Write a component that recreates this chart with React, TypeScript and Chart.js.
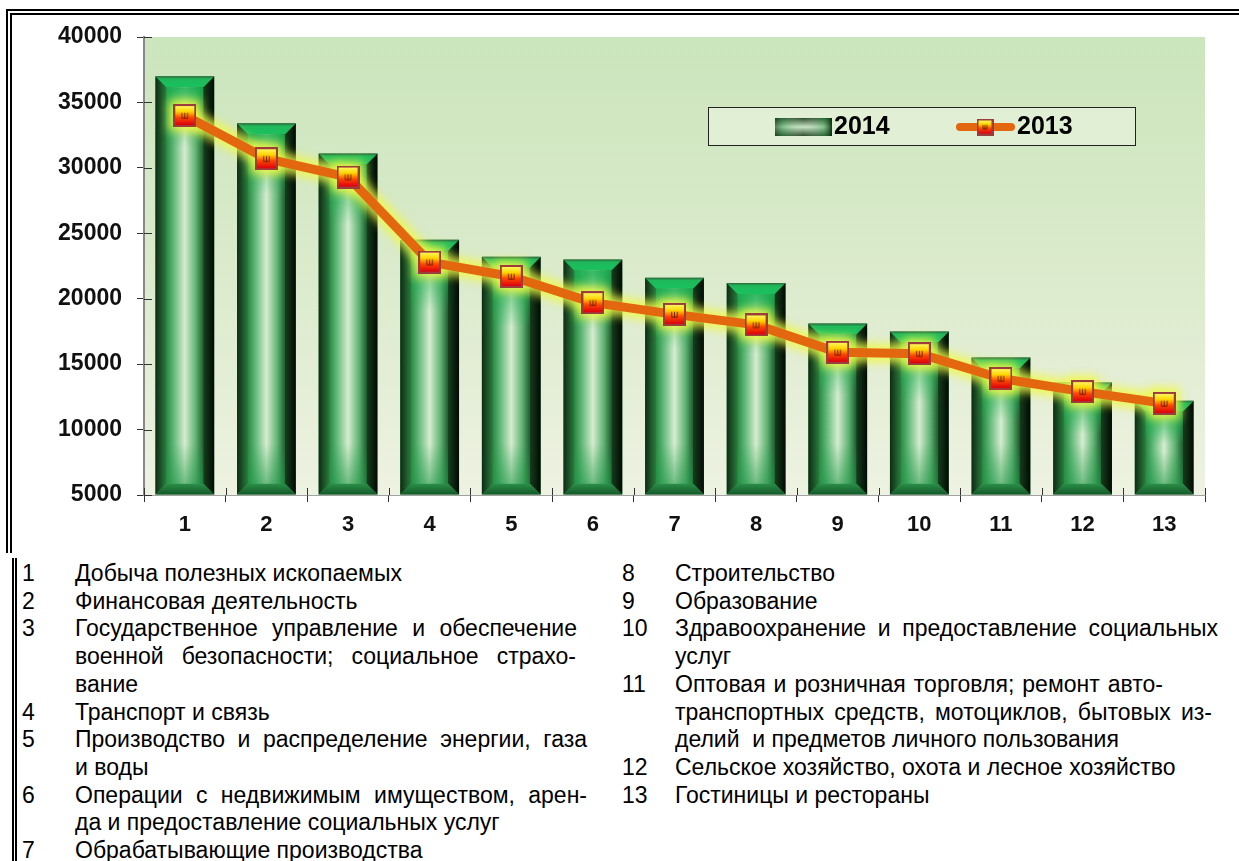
import React, { useEffect, useRef } from "react";
import { Chart, registerables } from "chart.js";

Chart.register(...registerables);

const categories = ["1", "2", "3", "4", "5", "6", "7", "8", "9", "10", "11", "12", "13"];
const values2014 = [37000, 33400, 31100, 24500, 23200, 23000, 21600, 21200, 18100, 17500, 15500, 13600, 12200];
const values2013 = [34000, 30700, 29300, 22800, 21700, 19700, 18800, 18000, 15900, 15800, 13900, 12900, 12000];
const yMin = 5000;
const yMax = 40000;
const yStep = 5000;
const seriesNames = ["2014", "2013"];

const descLeft: [string, string[]][] = [
  ["1", ["Добыча полезных ископаемых"]],
  ["2", ["Финансовая деятельность"]],
  ["3", ["Государственное управление и обеспечение", "военной безопасности; социальное страхо-", "вание"]],
  ["4", ["Транспорт и связь"]],
  ["5", ["Производство и распределение энергии, газа", "и воды"]],
  ["6", ["Операции с недвижимым имуществом, арен-", "да и предоставление социальных услуг"]],
  ["7", ["Обрабатывающие производства"]],
];
const descRight: [string, string[]][] = [
  ["8", ["Строительство"]],
  ["9", ["Образование"]],
  ["10", ["Здравоохранение и предоставление социальных", "услуг"]],
  ["11", ["Оптовая и розничная торговля; ремонт авто-", "транспортных средств, мотоциклов, бытовых из-", "делий  и предметов личного пользования"]],
  ["12", ["Сельское хозяйство, охота и лесное хозяйство"]],
  ["13", ["Гостиницы и рестораны"]],
];

// layout only: right edge (px) to which a justified line is stretched
const justifyEnds: Record<string, number> = {
  "3-0": 577,
  "3-1": 576,
  "5-0": 587,
  "6-0": 587,
  "10-0": 1218,
  "11-0": 1163,
  "11-1": 1212,
};

const FONT = "'Liberation Sans', Arial, Helvetica, sans-serif";
const CANVAS_W = 1239;
const CANVAS_H = 555;

function makeMarker(size: number): HTMLCanvasElement {
  const c = document.createElement("canvas");
  c.width = size;
  c.height = size;
  const g = c.getContext("2d")!;
  g.fillStyle = "#9b3d3d";
  g.fillRect(0, 0, size, size);
  const b = Math.max(2, Math.round(size * 0.1));
  const gr = g.createLinearGradient(0, b, 0, size - b);
  gr.addColorStop(0, "#fff65a");
  gr.addColorStop(0.3, "#ffd400");
  gr.addColorStop(0.6, "#ff4800");
  gr.addColorStop(1, "#dc0010");
  g.fillStyle = gr;
  g.fillRect(b, b, size - 2 * b, size - 2 * b);
  g.strokeStyle = "rgba(90,30,0,0.85)";
  g.lineWidth = 1;
  const cx = size / 2, cy = size / 2;
  const s = size * 0.12;
  g.beginPath();
  g.moveTo(cx - s, cy - s); g.lineTo(cx - s, cy + s); g.lineTo(cx + s, cy + s); g.lineTo(cx + s, cy - s);
  g.moveTo(cx, cy - s); g.lineTo(cx, cy + s);
  g.stroke();
  return c;
}

function drawBar3D(ctx: CanvasRenderingContext2D, L: number, R: number, T: number, B: number) {
  const b = 11;
  let gr = ctx.createLinearGradient(L, 0, L + b, 0);
  gr.addColorStop(0, "#0e2b13");
  gr.addColorStop(1, "#2b7d3d");
  ctx.fillStyle = gr;
  ctx.beginPath();
  ctx.moveTo(L, T); ctx.lineTo(L + b, T + b); ctx.lineTo(L + b, B - b); ctx.lineTo(L, B); ctx.closePath();
  ctx.fill();
  gr = ctx.createLinearGradient(R - b, 0, R, 0);
  gr.addColorStop(0, "#163f1d");
  gr.addColorStop(1, "#020a03");
  ctx.fillStyle = gr;
  ctx.beginPath();
  ctx.moveTo(R, T); ctx.lineTo(R - b, T + b); ctx.lineTo(R - b, B - b); ctx.lineTo(R, B); ctx.closePath();
  ctx.fill();
  gr = ctx.createLinearGradient(0, T, 0, T + b);
  gr.addColorStop(0, "#2f6a3c");
  gr.addColorStop(0.25, "#1fb85a");
  gr.addColorStop(1, "#18c25e");
  ctx.fillStyle = gr;
  ctx.beginPath();
  ctx.moveTo(L, T); ctx.lineTo(R, T); ctx.lineTo(R - b, T + b); ctx.lineTo(L + b, T + b); ctx.closePath();
  ctx.fill();
  gr = ctx.createLinearGradient(0, B - b, 0, B);
  gr.addColorStop(0, "#2a9048");
  gr.addColorStop(1, "#15582a");
  ctx.fillStyle = gr;
  ctx.beginPath();
  ctx.moveTo(L, B); ctx.lineTo(R, B); ctx.lineTo(R - b, B - b); ctx.lineTo(L + b, B - b); ctx.closePath();
  ctx.fill();
  const iL = L + b, iR = R - b, iT = T + b, iB = B - b;
  if (iB > iT) {
    gr = ctx.createLinearGradient(iL, 0, iR, 0);
    gr.addColorStop(0, "#2a8a44");
    gr.addColorStop(0.2, "#62b97a");
    gr.addColorStop(0.5, "#d6edcf");
    gr.addColorStop(0.8, "#5fb273");
    gr.addColorStop(1, "#1e5e2e");
    ctx.fillStyle = gr;
    ctx.fillRect(iL, iT, iR - iL, iB - iT);
    const h = iB - iT;
    const vg = ctx.createLinearGradient(0, iT, 0, iB);
    vg.addColorStop(0, "rgba(25,175,80,0.85)");
    vg.addColorStop(Math.min(0.45, 60 / h), "rgba(25,175,80,0.0)");
    vg.addColorStop(Math.max(0.55, 1 - 40 / h), "rgba(30,150,70,0.0)");
    vg.addColorStop(1, "rgba(30,150,70,0.55)");
    ctx.fillStyle = vg;
    ctx.fillRect(iL, iT, iR - iL, h);
  }
}

export default function App() {
  const ref = useRef<HTMLCanvasElement | null>(null);

  useEffect(() => {
    const canvas = ref.current;
    if (!canvas) return;
    const marker = makeMarker(23);
    const legendMarker = makeMarker(17);

    const bgPlugin = {
      id: "bgPlugin",
      beforeDatasetsDraw(chart: any) {
        const { ctx, chartArea } = chart;
        const g = ctx.createLinearGradient(0, chartArea.top, 0, chartArea.bottom);
        g.addColorStop(0, "#cbe5bc");
        g.addColorStop(0.55, "#dcebcd");
        g.addColorStop(1, "#eef2e2");
        ctx.save();
        ctx.fillStyle = g;
        ctx.fillRect(chartArea.left + 1, chartArea.top, chartArea.right - chartArea.left - 1, chartArea.bottom - chartArea.top);
        ctx.restore();
      },
    };

    const barPlugin = {
      id: "barPlugin",
      afterDatasetDraw(chart: any, args: any) {
        if (args.index !== 0) return;
        const ctx = chart.ctx;
        ctx.save();
        args.meta.data.forEach((el: any) => {
          const p = el.getProps(["x", "y", "base", "width"], true);
          drawBar3D(ctx, p.x - p.width / 2, p.x + p.width / 2, p.y, Math.min(p.base, chart.chartArea.bottom));
        });
        ctx.restore();
      },
    };

    const glowPlugin = {
      id: "glowPlugin",
      beforeDatasetDraw(chart: any, args: any) {
        if (args.index !== 1) return;
        const ctx = chart.ctx;
        const pts = args.meta.data.map((el: any) => el.getProps(["x", "y"], true));
        ctx.save();
        ctx.filter = "blur(5px)";
        ctx.strokeStyle = "rgba(240,248,70,0.85)";
        ctx.lineWidth = 19;
        ctx.lineJoin = "round";
        ctx.lineCap = "round";
        ctx.beginPath();
        pts.forEach((p: any, i: number) => (i === 0 ? ctx.moveTo(p.x, p.y) : ctx.lineTo(p.x, p.y)));
        ctx.stroke();
        ctx.fillStyle = "rgba(240,248,70,0.85)";
        pts.forEach((p: any) => ctx.fillRect(p.x - 16, p.y - 16, 32, 32));
        ctx.restore();
      },
    };

    const tickPlugin = {
      id: "tickPlugin",
      afterDraw(chart: any) {
        const { ctx, chartArea } = chart;
        const xs = chart.scales.x;
        const ys = chart.scales.y;
        ctx.save();
        ctx.strokeStyle = "#333";
        ctx.lineWidth = 1;
        ys.ticks.forEach((t: any) => {
          const y = Math.round(ys.getPixelForValue(t.value)) + 0.5;
          ctx.beginPath();
          ctx.moveTo(chartArea.left, y);
          ctx.lineTo(chartArea.left + 8, y);
          ctx.stroke();
        });
        const n = categories.length;
        for (let i = 0; i <= n; i++) {
          let x: number;
          if (i === 0) x = chartArea.left;
          else if (i === n) x = chartArea.right;
          else x = (xs.getPixelForValue(i - 1) + xs.getPixelForValue(i)) / 2;
          x = Math.round(x) + 0.5;
          ctx.beginPath();
          ctx.moveTo(x, chartArea.bottom - 7);
          ctx.lineTo(x, chartArea.bottom);
          ctx.stroke();
        }
        ctx.restore();
      },
    };

    const legendPlugin = {
      id: "legendBox",
      afterDraw(chart: any) {
        const ctx = chart.ctx;
        ctx.save();
        ctx.fillStyle = "#e1efd5";
        ctx.fillRect(708, 107, 427, 38);
        ctx.strokeStyle = "#222";
        ctx.lineWidth = 1;
        ctx.strokeRect(708.5, 107.5, 427, 38);
        const g = ctx.createLinearGradient(0, 118, 0, 136);
        g.addColorStop(0, "#2b4a2b");
        g.addColorStop(0.5, "#c9e3c3");
        g.addColorStop(1, "#2b4a2b");
        ctx.fillStyle = g;
        ctx.fillRect(775, 118, 57, 18);
        const g2 = ctx.createLinearGradient(775, 0, 832, 0);
        g2.addColorStop(0, "rgba(20,50,20,0.6)");
        g2.addColorStop(0.15, "rgba(40,150,70,0.4)");
        g2.addColorStop(0.5, "rgba(200,230,200,0)");
        g2.addColorStop(0.85, "rgba(40,150,70,0.4)");
        g2.addColorStop(1, "rgba(5,30,5,0.9)");
        ctx.fillStyle = g2;
        ctx.fillRect(775, 118, 57, 18);
        ctx.strokeStyle = "#e3670e";
        ctx.lineWidth = 8;
        ctx.lineCap = "round";
        ctx.beginPath();
        ctx.moveTo(960, 127);
        ctx.lineTo(1011, 127);
        ctx.stroke();
        ctx.drawImage(legendMarker, 985 - 8.5, 127 - 8.5);
        ctx.fillStyle = "#000";
        ctx.font = `bold 25px ${FONT}`;
        ctx.textBaseline = "middle";
        ctx.textAlign = "left";
        ctx.fillText(seriesNames[0], 834, 127);
        ctx.fillText(seriesNames[1], 1017, 127);
        ctx.restore();
      },
    };

    const chart = new Chart(canvas, {
      type: "bar",
      data: {
        labels: categories,
        datasets: [
          {
            type: "bar",
            label: seriesNames[0],
            data: values2014,
            backgroundColor: "#2e8b45",
            borderWidth: 0,
            barPercentage: 0.72,
            categoryPercentage: 1,
            base: yMin,
            order: 2,
          } as any,
          {
            type: "line",
            label: seriesNames[1],
            data: values2013,
            borderColor: "#e3670e",
            borderWidth: 9,
            borderJoinStyle: "round",
            borderCapStyle: "round",
            pointStyle: marker,
            pointRadius: 12,
            pointHoverRadius: 12,
            tension: 0,
            order: 1,
          } as any,
        ],
      },
      options: {
        responsive: false,
        animation: false,
        events: [],
        layout: { padding: { top: 37, right: 34, left: 0, bottom: 0 } },
        plugins: { legend: { display: false }, tooltip: { enabled: false } },
        scales: {
          x: {
            grid: { drawOnChartArea: false, tickLength: 7, color: "#333", offset: true },
            border: { color: "#444", width: 1.5 },
            ticks: { font: { family: FONT, size: 22, weight: "bold" }, color: "#111", padding: 10 },
            afterFit: (s: any) => {
              s.height = CANVAS_H - 495;
            },
          },
          y: {
            min: yMin,
            max: yMax,
            ticks: {
              stepSize: yStep,
              callback: (v: any) => String(v),
              font: { family: FONT, size: 23, weight: "bold" },
              color: "#111",
              padding: 15,
            },
            grid: { drawOnChartArea: false, tickLength: 7, color: "#333" },
            border: { color: "#888", width: 2 },
            afterFit: (s: any) => {
              s.width = 144;
            },
          },
        },
      } as any,
      plugins: [bgPlugin, barPlugin, glowPlugin, tickPlugin, legendPlugin],
    });
    return () => chart.destroy();
  }, []);

  const NUM_W = 53;
  const renderCol = (items: [string, string[]][], left: number) => (
    <div style={{ position: "absolute", left, top: 560, fontFamily: FONT, fontSize: 23, lineHeight: "27.7px", color: "#000" }}>
      {items.map(([num, lines]) => (
        <div key={num} style={{ display: "flex" }}>
          <div style={{ width: NUM_W, flex: `0 0 ${NUM_W}px` }}>{num}</div>
          <div>
            {lines.map((l, i) => {
              const end = justifyEnds[`${num}-${i}`];
              if (end) {
                return (
                  <div key={i} style={{ width: end - (left + NUM_W), textAlign: "justify", textAlignLast: "justify", whiteSpace: "normal" }}>
                    {l}
                  </div>
                );
              }
              return (
                <div key={i} style={{ whiteSpace: "pre" }}>
                  {l}
                </div>
              );
            })}
          </div>
        </div>
      ))}
    </div>
  );

  return (
    <div style={{ position: "fixed", left: 0, top: 0, width: 1239, height: 861, overflow: "hidden", background: "#fff" }}>
      <div style={{ position: "absolute", left: 6, top: 9, width: 1227, height: 538, borderTop: "6px double #000", borderLeft: "6px double #000" }} />
      <div style={{ position: "absolute", left: 12, top: 558, width: 0, height: 303, borderLeft: "5px double #000" }} />
      <canvas ref={ref} width={CANVAS_W} height={CANVAS_H} style={{ position: "absolute", left: 0, top: 0, width: CANVAS_W, height: CANVAS_H }} />
      {renderCol(descLeft, 22)}
      {renderCol(descRight, 622)}
    </div>
  );
}
